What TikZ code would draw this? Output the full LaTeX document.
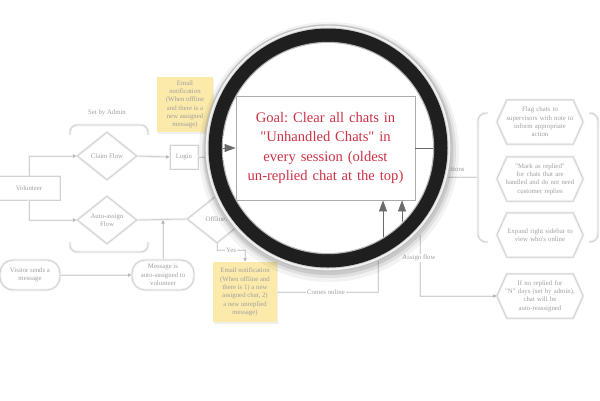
\documentclass[tikz,border=0pt]{standalone}
\usepackage{fontspec}
\setmainfont{Liberation Serif}[Ligatures=TeXOff]
\usetikzlibrary{arrows.meta,shapes.geometric,shadows,calc}
\definecolor{bgl}{HTML}{D2D2D2}
\definecolor{bgt}{HTML}{A0A0A0}
\definecolor{sticky}{HTML}{FCEAAB}
\definecolor{goalred}{RGB}{205,50,70}
\definecolor{lensline}{HTML}{6A6A6A}
\pgfdeclareradialshading{lensshade}{\pgfpoint{0bp}{0bp}}{%
  color(0bp)=(white); color(28bp)=(white); color(42bp)=(gray!7); color(48bp)=(gray!18); color(50bp)=(gray!32)}
\tikzset{
  bgline/.style={draw=bgl, line width=0.9pt, preaction={draw=gray!10, line width=2.6pt}},
  bgarrow/.style={bgline, -{Latex[length=3.5pt,width=3.5pt,color=gray!55]}},
  bgtext/.style={text=bgt, font=\fontsize{6.8}{8.3}\selectfont, align=center},
  diam/.style={diamond, bgline, bgtext, minimum width=60pt, minimum height=48pt, inner sep=0pt},
  rbox/.style={rectangle, bgline, bgtext, inner sep=1pt},
  rrbox/.style={rectangle, rounded corners=13pt, bgline, bgtext, inner sep=1pt},
  note/.style={rectangle, fill=sticky, bgtext, text=gray!75, inner sep=1pt,
    drop shadow={opacity=0.12, shadow xshift=0.6pt, shadow yshift=-1.6pt}},
  hexbox/.style={bgtext, minimum width=86pt, minimum height=44pt, text width=78pt, inner sep=0pt},
  lbl/.style={bgtext, fill=white, inner sep=1pt},
  goalbox/.style={rectangle, draw=gray!65, line width=0.8pt, minimum width=179pt, minimum height=104pt,
    text width=172pt, align=center, text=goalred, font=\fontsize{14.6}{19.4}\selectfont},
  lensarrow/.style={draw=lensline, line width=0.8pt, -{Triangle[length=11pt,width=8pt]}},
}
\newcommand\myhex[3]{%
  \node[hexbox] (#1) at (#2) {#3};
  \draw[bgline] (#1.west) -- ([xshift=10pt]#1.north west) -- ([xshift=-10pt]#1.north east)
    -- (#1.east) -- ([xshift=-10pt]#1.south east) -- ([xshift=10pt]#1.south west) -- cycle;}
\begin{document}
\frenchspacing
\begin{tikzpicture}[x=1pt,y=-1pt]
\useasboundingbox (0,0) rectangle (600,400);
\fill[white] (0,0) rectangle (600,400);

% ---------- blurred background flowchart ----------
\node[rbox, minimum width=62pt, minimum height=24pt] (vol) at (29,188) {Volunteer};
\node[diam] (claim) at (107,156) {Claim Flow};
\node[diam] (auto) at (107,220) {Auto-assign\\Flow};
\node[rbox, minimum width=28pt, minimum height=24pt] (login) at (184,157) {Login};
\node[diam] (off) at (217,219) {Offline?};
\node[rrbox, minimum width=60pt, minimum height=30pt] (vsend) at (30,275) {Visitor sends a\\message};
\node[rrbox, minimum width=62pt, minimum height=30pt] (msg) at (163,275) {Message is\\auto-assigned to\\volunteer};
\node[note, minimum width=56pt, minimum height=55pt] (n1) at (185,104.5)
  {Email\\notification\\(When offline\\and there is a\\new assigned\\message)};
\node[note, minimum width=64pt, minimum height=60pt] (n2) at (245,292)
  {Email notification\\(When offline and\\there is 1) a new\\assigned chat, 2)\\a new unreplied\\message)};

\node[bgtext] (setby) at (107,113) {Set by Admin};
\draw[bgline, rounded corners=7pt] (70,135) -- (70,125) -- (148,125) -- (148,135);
\draw[bgline, rounded corners=7pt] (70,242) -- (70,252) -- (148,252) -- (148,242);

\draw[bgarrow] (vol.north) |- (claim.west);
\draw[bgarrow] (vol.south) |- (auto.west);
\draw[bgarrow] (claim.east) -- (login.west);
\coordinate (loginend) at (232,157);
\draw[bgline] (login.east) -- (loginend);
\draw[bgline] (auto.east) -- (off.west);
\draw[bgarrow] (msg.north) -- (msg.north |- auto.east);
\draw[bgarrow] (vsend.east) -- (msg.west);
\coordinate (yesbend) at (245,250);
\draw[bgarrow] (off.south) |- (yesbend) -- (n2.north);
\node[lbl] (yes) at (231,250) {Yes};

\coordinate (co) at (378,235);
\draw[bgline] (n2.east) -| (co);
\node[lbl] (colbl) at (326,292) {Comes online};

% right side
\myhex{h1}{540,122}{Flag chats to\\supervisors with note to\\inform appropriate\\action}
\myhex{h2}{540,179}{"Mark as replied"\\for chats that are\\handled and do not need\\customer replies}
\myhex{h3}{540,235}{Expand right sidebar to\\view who's online}
\myhex{h4}{540,296}{If no replied for\\"N" days (set by admin),\\chat will be\\auto-reassigned}

\coordinate (af) at (420,235);
\draw[bgarrow] (af) |- (h4.west);
\node[lbl] (aflbl) at (419,258) {Assign flow};

\coordinate (actstart) at (430,177);
\coordinate (brace) at (478,177);
\draw[bgline] (actstart) -- (brace);
\node[bgtext] (actlbl) at (454,169) {Actions};
\draw[bgline, rounded corners=8pt] (488,113) -- (478,113) -- (478,242) -- (488,242);
\draw[bgline, rounded corners=8pt] (589,113) -- (598,113) -- (598,242) -- (589,242);

% ---------- magnifier ----------
\coordinate (c) at (328,148);
\fill[black, opacity=0.05] ($(c)+(1,4)$) circle (130pt);
\fill[black, opacity=0.07] ($(c)+(1,3)$) circle (127pt);
\fill[black, opacity=0.10] ($(c)+(0.5,2)$) circle (125pt);
\fill[gray!50] (c) circle (123.5pt);
\fill[gray!10] (c) circle (122.3pt);
\fill[gray!35] (c) circle (120.5pt);
\fill[black!88] (c) circle (119.5pt);
\fill[gray!60] (c) circle (106.2pt);
\shade[shading=lensshade] (c) circle (105pt);

\begin{scope}
  \clip (c) circle (105pt);
  \node[goalbox] (goal) at (325.5,148)
    {Goal: Clear all chats in\\"Unhandled Chats" in\\every session (oldest\\un-replied chat at the top)};
  \coordinate (lensL) at (215,148);
  \coordinate (lensR) at (440,148);
  \coordinate (b1) at (383,260);
  \coordinate (b2) at (402,260);
  \draw[lensarrow] (lensL) -- (goal.west);
  \draw[draw=lensline, line width=0.8pt] (goal.east) -- (lensR);
  \draw[lensarrow] (b1) -- (b1 |- goal.south);
  \draw[lensarrow] (b2) -- (b2 |- goal.south);
\end{scope}
\end{tikzpicture}
\end{document}
